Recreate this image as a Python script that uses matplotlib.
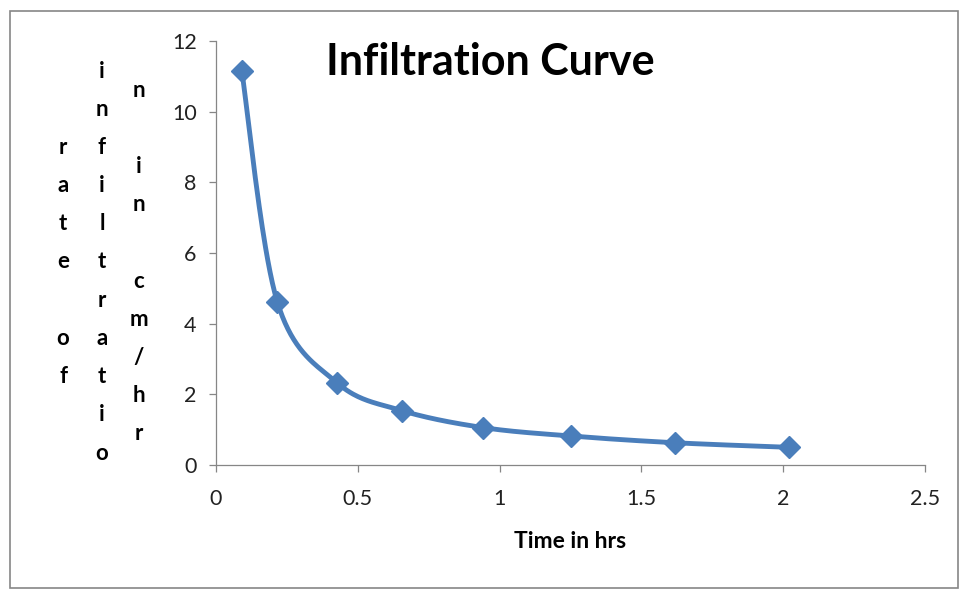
import numpy as np
import matplotlib
matplotlib.use("Agg")
import matplotlib.pyplot as plt
from matplotlib.patches import Rectangle

# measured infiltration rate against elapsed time
time_hrs = [0.091, 0.216, 0.428, 0.655, 0.941, 1.252, 1.618, 2.022]
rate_cm_hr = [11.15, 4.62, 2.32, 1.54, 1.06, 0.82, 0.63, 0.50]

x_ticks = [0, 0.5, 1, 1.5, 2, 2.5]
y_ticks = [0, 2, 4, 6, 8, 10, 12]

# y label is written as stacked letters wrapped into three columns
ylabel_columns = ["rate of", "infiltratio", "n in cm/hr"]

blue = "#4a7ebb"
grey = "#868686"

plt.rcParams["font.family"] = ["Lato", "DejaVu Sans"]

W, H = 960, 589
fig = plt.figure(figsize=(W / 100, H / 100), dpi=100)
fig.patch.set_facecolor("white")

# outer chart frame
fig.patches.append(Rectangle((10 / W, 1 - 588 / H), 948 / W, 577 / H,
                             transform=fig.transFigure, fill=False,
                             edgecolor=grey, linewidth=1.2))

ax = fig.add_axes([216 / W, 1 - 465 / H, (925 - 216) / W, (465 - 41) / H])
ax.set_xlim(0, 2.5)
ax.set_ylim(0, 12)


def smooth_curve(xs, ys, sx, sy, n=40):
    # cardinal (Catmull-Rom) spline computed in screen-like units
    p = np.column_stack([np.asarray(xs) * sx, np.asarray(ys) * sy])
    p = np.vstack([p[0], p, p[-1]])
    out = []
    for i in range(1, len(p) - 2):
        p0, p1, p2, p3 = p[i - 1], p[i], p[i + 1], p[i + 2]
        c1 = p1 + (p2 - p0) / 6
        c2 = p2 - (p3 - p1) / 6
        t = np.linspace(0, 1, n)[:, None]
        seg = ((1 - t) ** 3 * p1 + 3 * (1 - t) ** 2 * t * c1
               + 3 * (1 - t) * t ** 2 * c2 + t ** 3 * p2)
        out.append(seg if i == 1 else seg[1:])
    out = np.vstack(out)
    return out[:, 0] / sx, out[:, 1] / sy


sx = (925 - 216) / 2.5
sy = (465 - 41) / 12
cx, cy = smooth_curve(time_hrs, rate_cm_hr, sx, sy)
ax.plot(cx, cy, color=blue, linewidth=3.5, solid_capstyle="round", zorder=2)
ax.plot(time_hrs, rate_cm_hr, linestyle="none", marker="D", markersize=11,
        color=blue, zorder=3)

ax.set_xticks(x_ticks)
ax.set_xticklabels([f"{v:g}" for v in x_ticks])
ax.set_yticks(y_ticks)
for side in ("top", "right"):
    ax.spines[side].set_visible(False)
for side in ("left", "bottom"):
    ax.spines[side].set_color(grey)
    ax.spines[side].set_linewidth(0.9)
ax.tick_params(axis="both", direction="out", length=5, width=0.9,
               color=grey, labelsize=15.5, labelcolor="#222222")
ax.tick_params(axis="x", pad=12)
ax.tick_params(axis="y", pad=9)

ax.set_xlabel("Time in hrs", fontsize=16.5, fontweight="bold", labelpad=16)

fig.text(490 / W, 1 - 62 / H, "Infiltration Curve", fontsize=31,
         fontweight="bold", ha="center", va="center")

col_x = [63, 102, 139]
step = 38.2
for xpix, word in zip(col_x, ylabel_columns):
    n = len(word)
    for i, ch in enumerate(word):
        ypix = 262 + (i - (n - 1) / 2) * step
        fig.text(xpix / W, 1 - ypix / H, ch, fontsize=16, fontweight="bold",
                 ha="center", va="center")

fig.savefig("out.png", dpi=100)
